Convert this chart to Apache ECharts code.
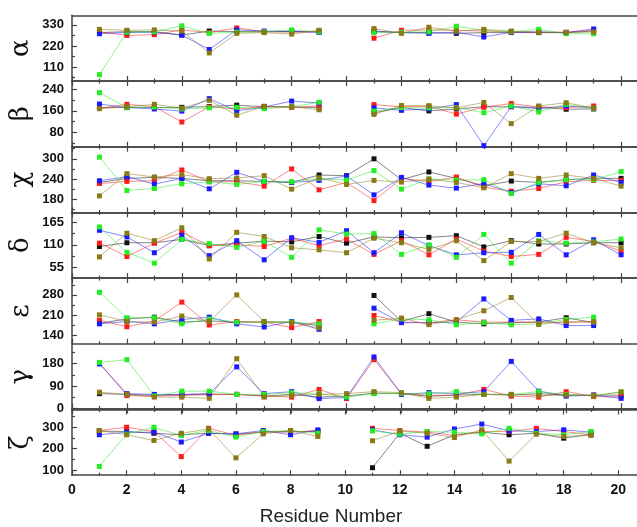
<!DOCTYPE html>
<html>
<head>
<meta charset="utf-8">
<script src="https://cdn.jsdelivr.net/npm/echarts@6/dist/echarts.min.js"></script>
<style>
    html, body { margin: 0; padding: 0; background: #fff; overflow: hidden; }
    /* wider than the window: the plot frame runs on past the right edge */
    #chart { width: 676px; height: 527px; }
</style>
</head>
<body>
<div id="chart"></div>
<script>
// residue numbers on x
const residues = [1, 2, 3, 4, 5, 6, 7, 8, 9, 10, 11, 12, 13, 14, 15, 16, 17, 18, 19, 20];

// alpha
const alphaBlack = [290, 295, 295, 277, 298, 295, 295, 295, 295, null, 298, 290, 290, 286, 290, 290, 290, 290, 298, null];
const alphaRed   = [295, 275, 279, 304, 290, 314, 295, 293, 294, null, 261, 302, 304, 302, 298, 293, 293, 292, 302, null];
const alphaBlue  = [284, 290, 292, 277, 202, 304, 298, 296, 291, null, 295, 290, 286, 292, 267, 292, 293, 290, 309, null];
const alphaGreen = [71, 292, 294, 325, 286, 292, 294, 304, 294, null, 291, 292, 294, 323, 302, 294, 307, 284, 284, null];
const alphaOlive = [307, 302, 304, 298, 184, 286, 290, 282, 302, null, 311, 286, 318, 297, 307, 298, 290, 290, 293, null];

// beta
const betaBlack = [172, 173, 172, 173, 176, 181, 175, 174, 172, null, 153, 172, 160, 167, 175, 175, 173, 166, 167, null];
const betaRed   = [169, 184, 175, 119, 175, 167, 176, 173, 178, null, 183, 175, 177, 148, 174, 187, 174, 172, 178, null];
const betaBlue  = [185, 172, 167, 159, 205, 160, 174, 196, 189, null, 171, 162, 167, 183, 32, 176, 168, 178, 170, null];
const betaGreen = [227, 172, 174, 167, 171, 173, 168, 175, 192, null, 159, 172, 171, 172, 153, 178, 156, 184, 170, null];
const betaOlive = [168, 175, 184, 170, 199, 144, 177, 175, 164, null, 147, 180, 179, 171, 191, 113, 178, 190, 170, null];

// chi
const chiBlack = [230, 242, 245, 242, 235, 235, 233, 230, 252, 250, 300, 238, 261, 242, 220, 234, 230, 238, 242, 242];
const chiRed   = [227, 233, 235, 267, 232, 232, 219, 270, 208, 230, 176, 242, 232, 246, 216, 204, 212, 232, 236, 236];
const chiBlue  = [235, 247, 225, 242, 211, 260, 233, 230, 236, 249, 193, 245, 222, 213, 227, 200, 226, 220, 252, 230];
const chiGreen = [305, 206, 212, 226, 232, 224, 233, 232, 242, 237, 265, 210, 240, 237, 238, 197, 230, 238, 238, 262];
const chiOlive = [190, 256, 246, 253, 241, 243, 250, 210, 244, 224, 236, 231, 240, 230, 214, 256, 242, 252, 242, 219];

// delta
const deltaBlack = [106, 115, 115, 123, 108, 114, 119, 117, 130, 114, 129, 127, 128, 132, 105, 120, 112, 112, 115, 115];
const deltaRed   = [114, 82, 114, 140, 108, 110, 106, 126, 108, 124, 87, 120, 86, 124, 95, 82, 87, 128, 118, 95];
const deltaBlue  = [145, 129, 91, 133, 84, 120, 74, 127, 116, 144, 91, 139, 108, 86, 91, 92, 135, 86, 122, 86];
const deltaGreen = [153, 92, 66, 123, 113, 104, 119, 80, 146, 136, 137, 87, 110, 80, 135, 66, 120, 114, 117, 124];
const deltaOlive = [81, 138, 120, 151, 76, 140, 130, 103, 98, 91, 126, 115, 99, 120, 72, 118, 118, 138, 115, 103];

// epsilon
const epsBlack = [182, 197, 203, 186, 190, 186, 186, 186, 174, null, 278, 188, 215, 186, 180, 184, 186, 201, 184, null];
const epsRed   = [192, 170, 190, 255, 176, 188, 186, 167, 188, null, 209, 186, 184, 194, 186, 186, 186, 184, 188, null];
const epsBlue  = [180, 188, 180, 195, 203, 180, 169, 188, 161, null, 234, 184, 184, 186, 266, 192, 197, 174, 174, null];
const epsGreen = [289, 201, 201, 180, 197, 186, 186, 186, 180, null, 180, 197, 194, 177, 184, 177, 180, 195, 203, null];
const epsOlive = [211, 188, 186, 207, 188, 280, 188, 184, 166, null, 192, 200, 177, 194, 225, 271, 178, 188, 186, null];

// gamma
const gammaBlack = [59, 56, 52, 56, 57, 56, 49, 56, 45, 49, 61, 59, 49, 53, 56, 53, 59, 53, 53, 53];
const gammaRed   = [183, 51, 49, 52, 55, 56, 50, 45, 76, 39, 196, 60, 52, 53, 76, 49, 45, 67, 47, 47];
const gammaBlue  = [179, 59, 56, 54, 59, 167, 59, 67, 39, 43, 207, 56, 63, 59, 67, 189, 69, 49, 53, 40];
const gammaGreen = [185, 196, 50, 69, 69, 56, 56, 63, 59, 45, 59, 60, 59, 67, 56, 56, 67, 56, 50, 67];
const gammaOlive = [65, 56, 45, 45, 40, 200, 45, 52, 56, 59, 67, 63, 40, 45, 56, 56, 51, 53, 51, 65];

// zeta
const zetaBlack = [282, 280, 272, 265, 272, 268, 277, 280, 280, null, 111, 272, 211, 265, 277, 265, 272, 249, 268, null];
const zetaRed   = [285, 300, 280, 163, 295, 262, 280, 277, 285, null, 295, 285, 277, 262, 280, 280, 295, 280, 265, null];
const zetaBlue  = [265, 277, 277, 231, 272, 269, 285, 265, 288, null, 288, 265, 254, 292, 315, 283, 280, 288, 277, null];
const zetaGreen = [117, 268, 300, 262, 285, 254, 280, 285, 272, null, 283, 268, 280, 277, 269, 295, 272, 265, 280, null];
const zetaOlive = [285, 265, 238, 272, 292, 157, 269, 285, 257, null, 237, 283, 272, 252, 288, 142, 268, 257, 262, null];

// y tick labels of each panel
const alphaTicks = [110, 220, 330];
const betaTicks = [80, 160, 240];
const chiTicks = [180, 240, 300];
const deltaTicks = [55, 110, 165];
const epsTicks = [140, 210, 280];
const gammaTicks = [0, 90, 180];
const zetaTicks = [100, 200, 300];

const colors = ['#111111', '#ff1a1a', '#1a1aff', '#22ee22', '#8a7a16'];

const panels = [
    { name: 'α', min: 38, max: 380, ticks: alphaTicks, minor: [55, 165, 275], data: [alphaBlack, alphaRed, alphaBlue, alphaGreen, alphaOlive] },
    { name: 'β', min: 28, max: 270, ticks: betaTicks, minor: [40, 120, 200], data: [betaBlack, betaRed, betaBlue, betaGreen, betaOlive] },
    { name: 'χ', min: 141, max: 336, ticks: chiTicks, minor: [150, 210, 270, 330], data: [chiBlack, chiRed, chiBlue, chiGreen, chiOlive] },
    { name: 'δ', min: 30, max: 188, ticks: deltaTicks, minor: [82.5, 137.5], data: [deltaBlack, deltaRed, deltaBlue, deltaGreen, deltaOlive] },
    { name: 'ε', min: 111, max: 338, ticks: epsTicks, minor: [175, 245, 315], data: [epsBlack, epsRed, epsBlue, epsGreen, epsOlive] },
    { name: 'γ', min: -5, max: 260, ticks: gammaTicks, minor: [45, 135, 225], data: [gammaBlack, gammaRed, gammaBlue, gammaGreen, gammaOlive] },
    { name: 'ζ', min: 76, max: 383, ticks: zetaTicks, minor: [150, 250, 350], data: [zetaBlack, zetaRed, zetaBlue, zetaGreen, zetaOlive] }
];

const axisColor = '#444';
const top0 = 15.3;
const panelH = 65.7;

const grid = [];
const xAxis = [];
const yAxis = [];
const series = [];

panels.forEach((p, i) => {
    grid.push({ left: 72, right: 0, top: top0 + i * panelH, height: panelH });

    // bottom axis of the panel
    const bottomIndex = xAxis.length;
    xAxis.push({
        gridIndex: i,
        type: 'value',
        min: 0,
        max: 22,
        interval: 2,
        position: 'bottom',
        axisLine: { lineStyle: { color: axisColor, width: 1.5 } },
        axisTick: { inside: true, length: 5, lineStyle: { color: axisColor, width: 1.2 } },
        minorTick: { show: true, splitNumber: 2, length: 2.5, lineStyle: { color: axisColor, width: 1.2 } },
        splitLine: { show: false },
        axisLabel: {
            show: i === panels.length - 1,
            formatter: v => (v <= 20 ? v : ''),
            fontFamily: 'Liberation Sans',
            fontWeight: 'bold',
            fontSize: 14,
            color: '#111',
            margin: 8
        }
    });
    // top axis, ticks pointing down (none on the first panel)
    xAxis.push({
        gridIndex: i,
        type: 'value',
        min: 0,
        max: 22,
        interval: 2,
        position: 'top',
        axisLine: { lineStyle: { color: axisColor, width: 1.5 } },
        axisTick: { show: i > 0, inside: true, length: 5, lineStyle: { color: axisColor, width: 1.2 } },
        minorTick: { show: i > 0, splitNumber: 2, length: 2.5, lineStyle: { color: axisColor, width: 1.2 } },
        splitLine: { show: false },
        axisLabel: { show: false }
    });

    const yIndex = yAxis.length;
    yAxis.push({
        gridIndex: i,
        type: 'value',
        min: p.min,
        max: p.max,
        position: 'left',
        axisLine: { show: true, lineStyle: { color: axisColor, width: 1.5 } },
        axisTick: { show: true, inside: true, length: 5, customValues: p.ticks, lineStyle: { color: axisColor, width: 1.2 } },
        axisLabel: {
            customValues: p.ticks,
            fontFamily: 'Liberation Sans',
            fontWeight: 'bold',
            fontSize: 13,
            color: '#111',
            margin: 8
        },
        splitLine: { show: false },
        name: p.name,
        nameLocation: 'middle',
        nameRotate: 90,
        nameGap: 38,
        nameMoveOverlap: false,
        nameTextStyle: { fontFamily: 'DejaVu Serif', fontSize: 26, color: '#111' }
    });
    // minor ticks on the left
    yAxis.push({
        gridIndex: i,
        type: 'value',
        min: p.min,
        max: p.max,
        position: 'left',
        axisLine: { show: false },
        axisTick: { show: true, inside: true, length: 3, customValues: p.minor, lineStyle: { color: axisColor, width: 1.2 } },
        axisLabel: { show: false },
        splitLine: { show: false }
    });

    p.data.forEach((arr, k) => {
        series.push({
            type: 'line',
            xAxisIndex: bottomIndex,
            yAxisIndex: yIndex,
            data: residues.map((r, j) => [r, arr[j] == null ? '-' : arr[j]]),
            symbol: 'rect',
            symbolSize: 5,
            showSymbol: true,
            connectNulls: false,
            clip: false,
            itemStyle: { color: colors[k] },
            lineStyle: { color: colors[k], width: 0.8, opacity: 0.65 }
        });
    });
});

const chart = echarts.init(document.getElementById('chart'));
chart.setOption({
    animation: false,
    backgroundColor: '#fff',
    grid: grid,
    xAxis: xAxis,
    yAxis: yAxis,
    series: series,
    graphic: [{
        type: 'text',
        x: 331,
        y: 517,
        style: {
            text: 'Residue Number',
            fontFamily: 'Liberation Sans',
            fontSize: 19,
            fill: '#222',
            align: 'center',
            verticalAlign: 'middle'
        }
    }]
});
</script>
</body>
</html>
